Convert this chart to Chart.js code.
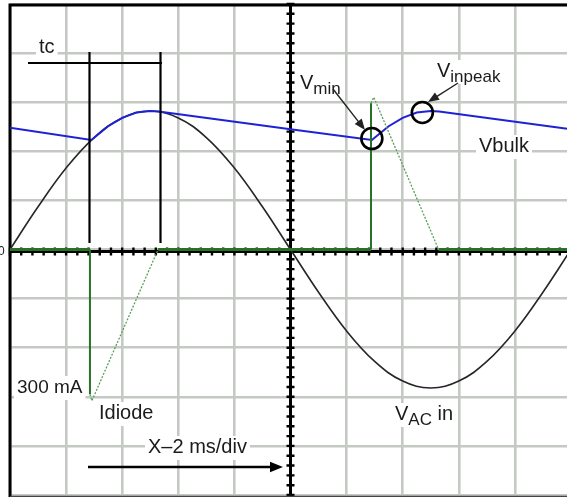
<!DOCTYPE html>
<html>
<head>
<meta charset="utf-8">
<script src="https://cdn.jsdelivr.net/npm/chart.js@4"></script>
<style>
  html, body { margin: 0; padding: 0; background: #fff; overflow: hidden; }
  #wrap { position: absolute; left: 0; top: 0; width: 575px; height: 497px; }
</style>
</head>
<body>
<div id="wrap"><canvas id="scope"></canvas></div>
<script>
/* Scope capture: line voltage, bulk capacitor voltage and bridge diode current.
   x in ms (2 ms/div), y in screen divisions (±5 div). */

// V_AC in, sampled every 1 ms
const timeMs = [0, 1, 2, 3, 4, 5, 6, 7, 8, 9, 10, 11, 12, 13, 14, 15, 16, 17, 18, 19, 20];
const vacIn  = [0, 0.87, 1.66, 2.28, 2.68, 2.82, 2.68, 2.28, 1.66, 0.87, 0,
                -0.87, -1.66, -2.28, -2.68, -2.82, -2.68, -2.28, -1.66, -0.87, 0];

// Vbulk: decays between charging pulses, tracks the line around the peak
const vbulkTime  = [0, 2.9, 3.5, 4.0, 4.5, 5.0, 5.3, 10.0, 12.9, 13.5, 14.0, 14.5, 15.0, 15.3, 20];
const vbulkLevel = [2.48, 2.23, 2.51, 2.68, 2.79, 2.82, 2.81, 2.45, 2.23, 2.51, 2.68, 2.79, 2.82, 2.81, 2.45];

// Idiode: one charging pulse per half cycle
const idiodeTime  = [0, 2.85, 2.85, 2.92, 5.28, 12.87, 12.87, 12.97, 15.28, 20];
const idiodeLevel = [0, 0, -2.95, -3.08, 0, 0, 2.98, 3.10, 0, 0];

// graticule
const xTicksMs  = [0, 2, 4, 6, 8, 10, 12, 14, 16, 18, 20];
const yTicksDiv = [-5, -4, -3, -2, -1, 0, 1, 2, 3, 4, 5];

const GRID = '#c5c9c3';
const INK = '#1b1b1b';
const FONT = '"Liberation Sans", Arial, Helvetica, sans-serif';

const pts = (xs, ys) => xs.map((x, i) => ({x, y: ys[i]}));
const isRamp = c => c.p0.parsed.x !== c.p1.parsed.x && c.p0.parsed.y !== c.p1.parsed.y;
const isFlat = c => c.p0.parsed.y === 0 && c.p1.parsed.y === 0;

/* ---- drawing helpers ---- */
function tag(ctx, x, y, pieces) {
  // pieces: [text, size px, baseline shift]
  let w = 0;
  pieces.forEach(([s, sz]) => { ctx.font = sz + 'px ' + FONT; w += ctx.measureText(s).width; });
  ctx.fillStyle = '#fff';
  ctx.fillRect(x - 3, y - 17, w + 6, 24);
  let cx = x;
  pieces.forEach(([s, sz, dy]) => {
    ctx.font = sz + 'px ' + FONT;
    ctx.fillStyle = INK;
    ctx.fillText(s, cx, y + (dy || 0));
    cx += ctx.measureText(s).width;
  });
}

function arrow(ctx, x0, y0, x1, y1, lw, head) {
  const a = Math.atan2(y1 - y0, x1 - x0), ca = Math.cos(a), sa = Math.sin(a);
  ctx.lineWidth = lw;
  ctx.beginPath();
  ctx.moveTo(x0, y0);
  ctx.lineTo(x1 - ca * head * 0.8, y1 - sa * head * 0.8);
  ctx.stroke();
  ctx.beginPath();
  ctx.moveTo(x1, y1);
  ctx.lineTo(x1 - head * ca + head * 0.4 * sa, y1 - head * sa - head * 0.4 * ca);
  ctx.lineTo(x1 - head * ca - head * 0.4 * sa, y1 - head * sa + head * 0.4 * ca);
  ctx.closePath();
  ctx.fill();
}

const scopeDecor = {
  id: 'scopeDecor',
  // thick centre axes with minor ticks + frame, under the traces
  beforeDatasetsDraw(chart) {
    const {ctx, chartArea: a, scales: {x, y}} = chart;
    const x0 = x.getPixelForValue(10), y0 = y.getPixelForValue(0) + 2;   // axis sits just under the trace baseline
    ctx.save();
    ctx.strokeStyle = '#000';
    ctx.lineWidth = 3;
    ctx.beginPath();
    ctx.moveTo(x0, a.top); ctx.lineTo(x0, a.bottom + 2);
    ctx.moveTo(a.left, y0); ctx.lineTo(a.right, y0);
    ctx.stroke();
    ctx.lineWidth = 2.4;
    ctx.beginPath();
    for (let v = 0; v <= 20.001; v += 0.4) {
      const px = x.getPixelForValue(v);
      ctx.moveTo(px, y0 - 4); ctx.lineTo(px, y0 + 4);
    }
    for (let v = -5; v <= 5.001; v += 0.2) {
      const py = y.getPixelForValue(v);
      ctx.moveTo(x0 - 4, py); ctx.lineTo(x0 + 4, py);
    }
    ctx.stroke();
    // frame
    ctx.lineWidth = 3;
    ctx.beginPath();
    ctx.moveTo(a.left, a.bottom + 2); ctx.lineTo(a.left, a.top + 1); ctx.lineTo(a.right + 4, a.top + 1);
    ctx.stroke();
    ctx.lineWidth = 1.5;
    ctx.strokeStyle = '#444';
    ctx.beginPath();
    ctx.moveTo(a.left, a.bottom + 1.5); ctx.lineTo(a.right + 4, a.bottom + 1.5);
    ctx.stroke();
    ctx.restore();
  },
  // annotations on top
  afterDatasetsDraw(chart) {
    const {ctx, scales: {x, y}} = chart;
    ctx.save();
    ctx.strokeStyle = '#000';
    ctx.fillStyle = '#000';
    ctx.textBaseline = 'alphabetic';

    // tc conduction window
    tag(ctx, 39, 53, [['tc', 20]]);
    ctx.lineWidth = 2.2;
    ctx.beginPath();
    ctx.moveTo(28, 63); ctx.lineTo(162, 63);
    [2.82, 5.35].forEach(t => {
      const px = Math.round(x.getPixelForValue(t)) + 0.5;
      ctx.moveTo(px, 52); ctx.lineTo(px, 243);
    });
    ctx.stroke();

    // Vmin / Vinpeak markers
    ctx.lineWidth = 2.6;
    [[12.9, 2.26], [14.7, 2.79]].forEach(([t, v]) => {
      ctx.beginPath();
      ctx.arc(x.getPixelForValue(t), y.getPixelForValue(v), 10.5, 0, Math.PI * 2);
      ctx.stroke();
    });
    tag(ctx, 300, 89, [['V', 20], ['min', 17, 5]]);
    tag(ctx, 437, 77, [['V', 20], ['inpeak', 17, 5]]);
    ctx.strokeStyle = '#222'; ctx.fillStyle = '#222';
    arrow(ctx, 333, 89, 365, 130, 1.4, 11);
    arrow(ctx, 458, 83, 428, 102, 1.4, 11);

    tag(ctx, 479, 152, [['Vbulk', 20]]);
    tag(ctx, 17, 393, [['300 mA', 19]]);
    tag(ctx, 99, 419, [['Idiode', 20]]);
    tag(ctx, 395, 420, [['V', 20], ['AC', 17, 5], [' in', 20]]);
    tag(ctx, 148, 453, [['X\u20132 ms/div', 20]]);

    ctx.strokeStyle = '#000'; ctx.fillStyle = '#000';
    arrow(ctx, 88, 467, 283, 467, 2.6, 13);

    ctx.font = '12px ' + FONT;
    ctx.fillStyle = INK;
    ctx.fillText('0', -2, 255);
    ctx.restore();
  }
};

new Chart(document.getElementById('scope'), {
  type: 'scatter',
  data: {
    datasets: [
      {
        label: 'Idiode',
        data: pts(idiodeTime, idiodeLevel),
        showLine: true, pointRadius: 0, tension: 0,
        borderColor: '#267326', borderWidth: 2,
        segment: {
          borderWidth: c => isFlat(c) ? 3 : (isRamp(c) ? 1.3 : 2),
          borderColor: c => isRamp(c) ? '#5a9e5a' : '#267326',
          borderDash: c => isRamp(c) ? [2, 1.5] : []
        }
      },
      {
        label: 'Vbulk',
        data: pts(vbulkTime, vbulkLevel),
        showLine: true, pointRadius: 0, tension: 0,
        borderColor: '#1f22d4', borderWidth: 2
      },
      {
        label: 'VAC in',
        data: pts(timeMs, vacIn),
        showLine: true, pointRadius: 0, tension: 0.4,
        borderColor: '#262626', borderWidth: 1.6
      }
    ]
  },
  options: {
    responsive: true,
    maintainAspectRatio: false,
    animation: false,
    layout: {padding: {left: 10, top: 4, right: 4, bottom: 2}},
    plugins: {legend: {display: false}, tooltip: {enabled: false}},
    scales: {
      x: {
        type: 'linear', min: 0, max: 20,
        afterBuildTicks: s => { s.ticks = xTicksMs.map(value => ({value})); },
        ticks: {display: false},
        grid: {color: GRID, lineWidth: 2.6, drawTicks: false},
        border: {display: false}
      },
      y: {
        type: 'linear', min: -5, max: 5,
        afterBuildTicks: s => { s.ticks = yTicksDiv.map(value => ({value})); },
        ticks: {display: false},
        grid: {color: GRID, lineWidth: 2.6, drawTicks: false},
        border: {display: false}
      }
    }
  },
  plugins: [scopeDecor]
});
</script>
</body>
</html>
